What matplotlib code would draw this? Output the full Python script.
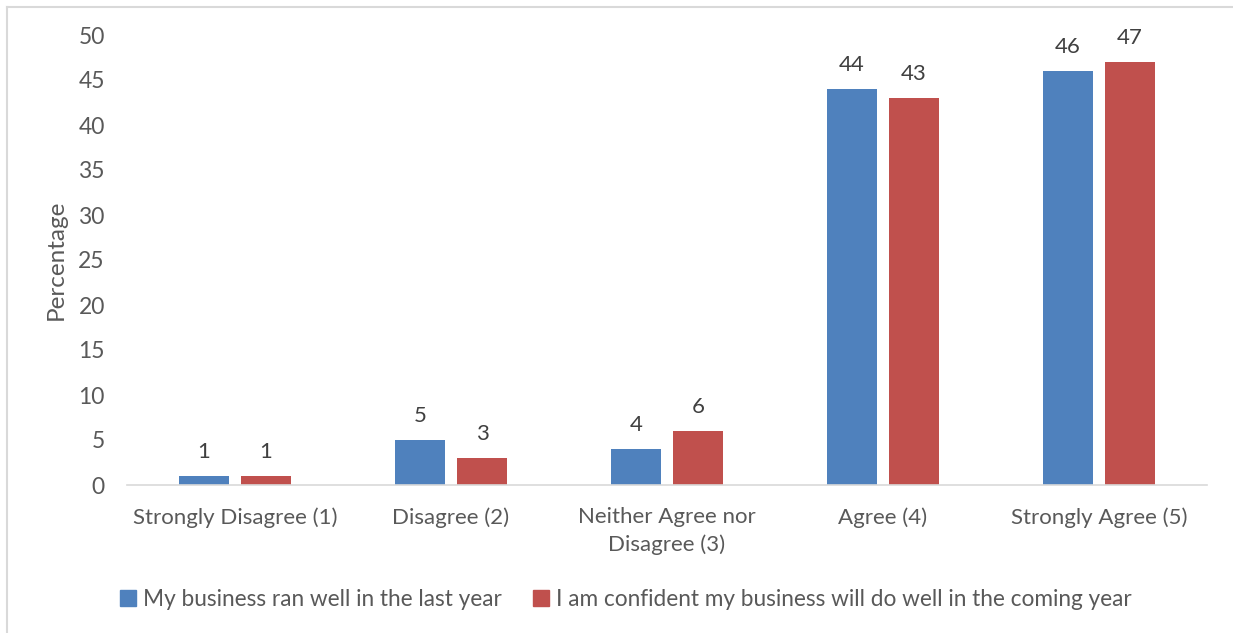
import matplotlib.pyplot as plt
import numpy as np
from matplotlib.lines import Line2D

plt.rcParams['font.family'] = ['Lato', 'DejaVu Sans']

categories = ["Strongly Disagree (1)", "Disagree (2)", "Neither Agree nor\nDisagree (3)",
              "Agree (4)", "Strongly Agree (5)"]
ran_well = [1, 5, 4, 44, 46]
confident = [1, 3, 6, 43, 47]
series_names = ["My business ran well in the last year",
                "I am confident my business will do well in the coming year"]
yticks = list(range(0, 55, 5))

blue = "#4F81BD"
red = "#C0504D"
txt = "#595959"
fs = 16

fig = plt.figure(figsize=(12.33, 6.33), dpi=100)
ax = fig.add_axes([127 / 1233, 1 - 485 / 633, 1080 / 1233, 450 / 633])

x = np.arange(len(categories))
w = 0.227
off = 0.1435
b1 = ax.bar(x - off, ran_well, w, color=blue)
b2 = ax.bar(x + off, confident, w, color=red)

for bars, vals in ((b1, ran_well), (b2, confident)):
    for b, v in zip(bars, vals):
        ax.text(b.get_x() + b.get_width() / 2, v + 1.6, str(v), ha="center", va="bottom",
                fontsize=fs, color="#404040")

ax.set_xlim(-0.5, len(categories) - 0.5)
ax.set_ylim(0, 50)
ax.set_yticks(yticks)
ax.set_xticks(x)
ax.set_xticklabels(categories, fontsize=fs, color=txt, linespacing=1.45)
ax.tick_params(axis="y", labelsize=16.5, labelcolor=txt, length=0, pad=16)
ax.tick_params(axis="x", length=0, pad=16)
for s in ("top", "right", "left"):
    ax.spines[s].set_visible(False)
ax.spines["bottom"].set_color("#D9D9D9")
ax.spines["bottom"].set_linewidth(1.2)
ax.set_ylabel("Percentage", fontsize=17.5, color=txt)
ax.yaxis.set_label_coords(-0.0556, 0.5)

handles = [plt.Rectangle((0, 0), 1, 1, color=blue), plt.Rectangle((0, 0), 1, 1, color=red)]
fig.legend(handles, series_names, loc="center", bbox_to_anchor=(626 / 1233, 1 - 599 / 633),
           ncol=2, frameon=False, fontsize=16.3, labelcolor=txt, handlelength=0.7,
           handleheight=0.7, handletextpad=0.3, columnspacing=1.4)

# outer chart border (top and left edges only)
fig.add_artist(Line2D([6.5 / 1233, 6.5 / 1233], [0, 1 - 7 / 633], color="#D9D9D9", lw=1.5))
fig.add_artist(Line2D([6.5 / 1233, 1], [1 - 7 / 633, 1 - 7 / 633], color="#D9D9D9", lw=1.5))

fig.savefig("out.png", dpi=100)
